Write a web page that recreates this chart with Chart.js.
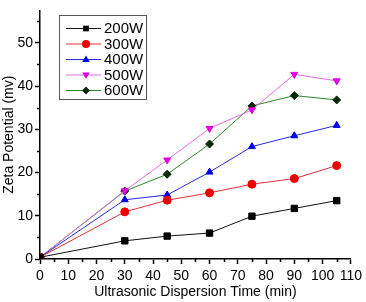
<!DOCTYPE html>
<html>
<head>
<meta charset="utf-8">
<script src="https://cdn.jsdelivr.net/npm/chart.js@4/dist/chart.umd.min.js"></script>
<style>
html,body{margin:0;padding:0;background:#fff;}
#wrap{width:366px;height:302px;position:relative;}
</style>
</head>
<body>
<div id="wrap"><canvas id="c" width="366" height="302"></canvas></div>
<script>
const times = [0, 30, 45, 60, 75, 90, 105];
const seriesNames = ['200W', '300W', '400W', '500W', '600W'];
const w200 = [0.4, 4.2, 5.3, 6.0, 9.9, 11.7, 13.5];
const w300 = [0.4, 10.9, 13.6, 15.3, 17.3, 18.6, 21.6];
const w400 = [0.4, 13.7, 14.8, 20.1, 26.0, 28.5, 30.9];
const w500 = [0.4, 15.8, 22.9, 30.2, 34.5, 42.7, 41.2];
const w600 = [0.4, 15.7, 19.6, 26.6, 35.4, 37.8, 36.8];
const xTicks = [0, 10, 20, 30, 40, 50, 60, 70, 80, 90, 100, 110];
const yTicks = [0, 10, 20, 30, 40, 50];

const styles = [
  {line:'#111111', fill:'#000000', shape:'rect', rot:0},
  {line:'#e0303a', fill:'#ee0000', shape:'circle', rot:0},
  {line:'#2a2ad8', fill:'#0000ee', shape:'triangle', rot:0},
  {line:'#e070e0', fill:'#e000e0', shape:'triangle', rot:180},
  {line:'#2a8a2a', fill:'#062806', shape:'rectRot', rot:0}
];
const allSeries = [w200, w300, w400, w500, w600];

const datasets = allSeries.map((vals, i) => ({
  label: seriesNames[i],
  data: vals.map((v, j) => ({x: times[j], y: v})),
  borderColor: styles[i].line,
  backgroundColor: styles[i].fill,
  pointBackgroundColor: styles[i].fill,
  pointBorderColor: styles[i].fill,
  pointStyle: styles[i].shape,
  pointRotation: styles[i].rot,
  pointRadius: styles[i].shape === 'rect' ? 4.5 : 4,
  borderWidth: 1,
  pointBorderWidth: 1,
  tension: 0
}));

function drawMarker(ctx, shape, rot, x, y, r) {
  ctx.beginPath();
  if (shape === 'circle') {
    ctx.arc(x, y, r, 0, Math.PI * 2);
  } else if (shape === 'rect') {
    const s = r * Math.SQRT1_2;
    ctx.rect(x - s, y - s, 2 * s, 2 * s);
  } else if (shape === 'rectRot') {
    ctx.moveTo(x, y - r); ctx.lineTo(x + r, y); ctx.lineTo(x, y + r); ctx.lineTo(x - r, y);
    ctx.closePath();
  } else if (shape === 'triangle') {
    const d = rot === 180 ? -1 : 1;
    ctx.moveTo(x, y - d * r);
    ctx.lineTo(x + r * 0.95, y + d * r * 0.6);
    ctx.lineTo(x - r * 0.95, y + d * r * 0.6);
    ctx.closePath();
  }
  ctx.fill();
}

const legendPlugin = {
  id: 'boxLegend',
  afterDraw(chart) {
    const ctx = chart.ctx;
    ctx.save();
    ctx.strokeStyle = '#555';
    ctx.lineWidth = 1;
    ctx.strokeRect(59.5, 15.5, 87, 84);
    chart.data.datasets.forEach((ds, i) => {
      const y = 28.5 + i * 15.5;
      ctx.strokeStyle = styles[i].line;
      ctx.lineWidth = 1;
      ctx.beginPath(); ctx.moveTo(66, y); ctx.lineTo(101, y); ctx.stroke();
      ctx.fillStyle = styles[i].fill;
      drawMarker(ctx, styles[i].shape, styles[i].rot, 86, y, 4);
      ctx.fillStyle = '#000';
      ctx.font = '15px "Liberation Sans", Arial, sans-serif';
      ctx.textAlign = 'left';
      ctx.textBaseline = 'middle';
      ctx.fillText(ds.label, 104, y + 0.5);
    });
    ctx.restore();
  }
};

const minorTicks = {
  id: 'minorTicks',
  afterDraw(chart) {
    const ctx = chart.ctx;
    const xs = chart.scales.x, ys = chart.scales.y;
    ctx.save();
    ctx.strokeStyle = '#000';
    ctx.lineWidth = 1.5;
    ctx.beginPath();
    for (let v = 5; v < 110; v += 10) {
      const px = Math.round(xs.getPixelForValue(v)) + 0.5;
      ctx.moveTo(px, ys.bottom); ctx.lineTo(px, ys.bottom + 3);
    }
    for (let v = 5; v < 57.5; v += 10) {
      const py = Math.round(ys.getPixelForValue(v)) + 0.5;
      ctx.moveTo(xs.left, py); ctx.lineTo(xs.left - 3, py);
    }
    ctx.stroke();
    ctx.restore();
  }
};

const font = {family: '"Liberation Sans", Arial, sans-serif', size: 14};

new Chart(document.getElementById('c'), {
  type: 'line',
  data: {datasets},
  options: {
    responsive: false,
    animation: false,
    devicePixelRatio: 1,
    layout: {padding: {top: 5, right: 12, left: 0, bottom: 0}},
    plugins: {legend: {display: false}, tooltip: {enabled: false}},
    scales: {
      x: {
        type: 'linear', min: 0, max: 110,
        afterBuildTicks: (s) => { s.ticks = xTicks.map(v => ({value: v})); },
        afterFit: (s) => { s.height = 43; },
        border: {color: '#000', width: 1.5},
        grid: {drawOnChartArea: false, drawTicks: true, tickLength: 5, color: '#000', tickWidth: 1.5},
        ticks: {color: '#000', font, padding: 4, maxRotation: 0, autoSkip: false},
        title: {display: true, text: 'Ultrasonic Dispersion Time (min)', color: '#000', font, padding: {top: 0, bottom: 1}}
      },
      y: {
        type: 'linear', min: 0, max: 57.5,
        afterBuildTicks: (s) => { s.ticks = yTicks.map(v => ({value: v})); },
        afterFit: (s) => { s.width = 40; },
        border: {color: '#000', width: 1.5},
        grid: {drawOnChartArea: false, drawTicks: true, tickLength: 5, color: '#000', tickWidth: 1.5},
        ticks: {color: '#000', font, padding: 2},
        title: {display: true, text: 'Zeta Potential (mv)', color: '#000', font, padding: {top: 1, bottom: 0}}
      }
    }
  },
  plugins: [legendPlugin, minorTicks]
});
</script>
</body>
</html>
